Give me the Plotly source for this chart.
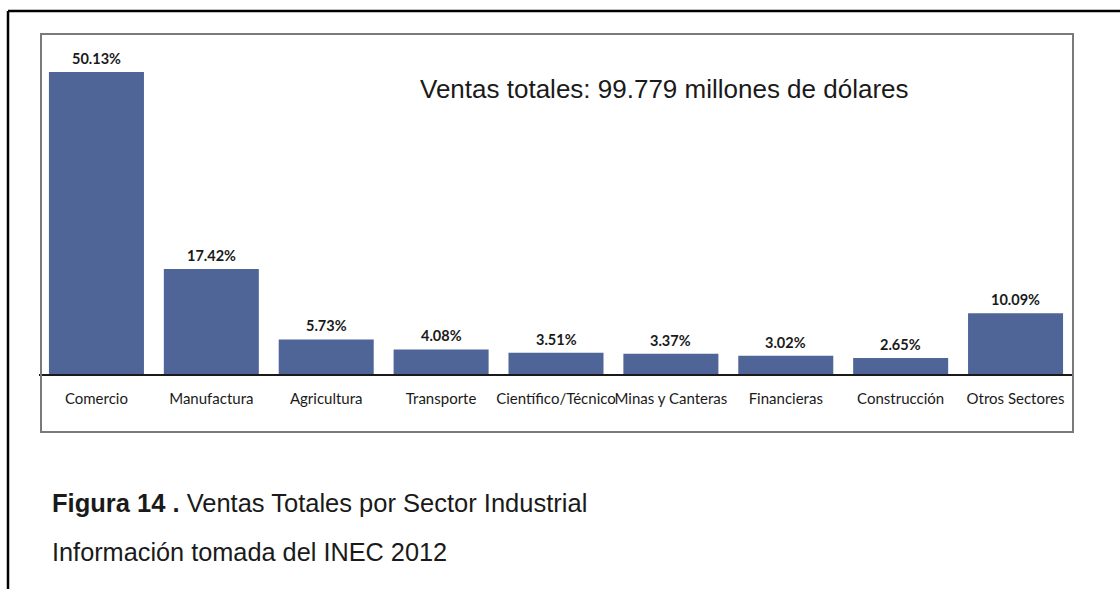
import plotly.graph_objects as go

# Sales share by industrial sector (INEC 2012)
sectores = ["Comercio", "Manufactura", "Agricultura", "Transporte",
            "Científico/Técnico", "Minas y Canteras", "Financieras",
            "Construcción", "Otros Sectores"]
porcentajes = [50.13, 17.42, 5.73, 4.08, 3.51, 3.37, 3.02, 2.65, 10.09]
etiquetas = ["50.13%", "17.42%", "5.73%", "4.08%", "3.51%", "3.37%",
             "3.02%", "2.65%", "10.09%"]

W, H = 1120, 589
L, R, T, B = 39, 47, 34, 215
PW, PH = W - L - R, H - T - B
Y_MAX = 56.44

def px(x):
    return (x - L) / PW

def py(y):
    return (H - B - y) / PH

BAR_COLOR = "#506597"

fig = go.Figure()
fig.add_trace(go.Bar(
    x=sectores, y=porcentajes,
    marker=dict(color=BAR_COLOR, line=dict(width=0)),
    hoverinfo="skip",
))

# value labels above bars
for s, v, t in zip(sectores, porcentajes, etiquetas):
    fig.add_annotation(
        x=s, y=v, xref="x", yref="y", text=t, showarrow=False,
        yanchor="bottom", yshift=3,
        font=dict(family="Lato", size=14.5, color="#1a1a1a", weight="bold"),
    )

shapes = [
    # outer frame (top and left edges)
    dict(type="line", xref="paper", yref="paper",
         x0=px(8), x1=px(W + 5), y0=py(11), y1=py(11),
         line=dict(color="#000000", width=2.5)),
    dict(type="line", xref="paper", yref="paper",
         x0=px(8), x1=px(8), y0=py(11), y1=py(H + 5),
         line=dict(color="#000000", width=2.5)),
    # chart box
    dict(type="rect", xref="paper", yref="paper",
         x0=px(41), x1=px(1073), y0=py(432), y1=py(34),
         line=dict(color="#7a7a7a", width=2), fillcolor="rgba(0,0,0,0)"),
]

annotations = [
    dict(text="Ventas totales: 99.779 millones de dólares",
         x=px(664), y=py(89), xref="paper", yref="paper",
         xanchor="center", yanchor="middle", showarrow=False,
         font=dict(family="Liberation Sans", size=26, color="#1a1a1a")),
    dict(text="<b>Figura 14 .</b> Ventas Totales por Sector Industrial",
         x=px(50), y=py(503), xref="paper", yref="paper",
         xanchor="left", yanchor="middle", showarrow=False,
         font=dict(family="Liberation Sans", size=25.5, color="#1a1a1a")),
    dict(text="Información tomada del INEC 2012",
         x=px(50), y=py(552), xref="paper", yref="paper",
         xanchor="left", yanchor="middle", showarrow=False,
         font=dict(family="Liberation Sans", size=25.3, color="#1a1a1a")),
]

fig.update_layout(
    width=W, height=H,
    margin=dict(l=L, r=R, t=T, b=B, pad=0),
    paper_bgcolor="white", plot_bgcolor="white",
    bargap=0.173,
    showlegend=False,
    shapes=shapes,
)
for a in annotations:
    fig.add_annotation(**a)

fig.update_xaxes(
    type="category", range=[-0.5, 8.5],
    showline=True, linecolor="#1a1a1a", linewidth=1.5,
    showgrid=False, ticks="", ticklabelstandoff=10, tickangle=0,
    tickfont=dict(family="Lato", size=15, color="#1a1a1a"),
)
fig.update_yaxes(
    range=[0, Y_MAX], visible=False, showgrid=False, zeroline=False,
)

fig.write_html("out.html")
